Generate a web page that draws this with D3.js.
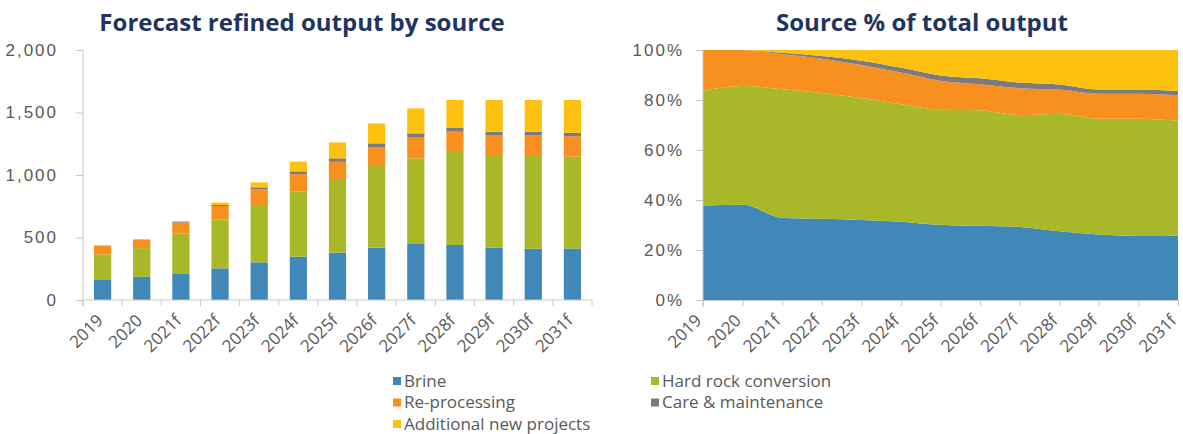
<!DOCTYPE html>
<html>
<head>
<meta charset="utf-8">
<script src="https://cdn.jsdelivr.net/npm/d3@7"></script>
<style>
  body { margin: 0; background: #fff; font-family: "Open Sans", sans-serif; }
  .title { font-weight: 700; fill: #1f3560; font-size: 24px; }
  .tick text { fill: #595959; font-size: 17px; letter-spacing: 2px; }
  .legend text { fill: #595959; font-size: 17px; }
</style>
</head>
<body>
<div id="chart"></div>
<script>
// categories
var years = ['2019', '2020', '2021f', '2022f', '2023f', '2024f', '2025f', '2026f', '2027f', '2028f', '2029f', '2030f', '2031f'];

// series values (kt)
var brine        = [165, 185, 208, 253, 301, 347, 379, 419, 448, 440, 419, 410, 412];
var hardRock     = [200, 230, 325, 392, 459, 520, 581, 653, 685, 752, 741, 750, 735];
var reprocessing = [71, 70, 88, 107, 125, 140, 146, 147, 166, 155, 160, 160, 163];
var care         = [0, 0, 4, 8, 16, 22, 27, 34, 34, 32, 27, 27, 28];
var additional   = [0, 0, 7, 19, 40, 78, 128, 160, 200, 221, 253, 253, 262];

var seriesKeys = ['brine', 'hardRock', 'reprocessing', 'care', 'additional'];
var seriesNames = {
	brine: 'Brine',
	hardRock: 'Hard rock conversion',
	reprocessing: 'Re-processing',
	care: 'Care & maintenance',
	additional: 'Additional new projects'
};
var colors = {
	brine: '#4088b8',
	hardRock: '#a8b828',
	reprocessing: '#f7901e',
	care: '#7c7a80',
	additional: '#fcc20f'
};

var valueTicks = [0, 500, 1000, 1500, 2000];
var pctTicks = [0, 0.2, 0.4, 0.6, 0.8, 1];

var table = years.map(function(y, i) {
	return {
		year: y,
		brine: brine[i],
		hardRock: hardRock[i],
		reprocessing: reprocessing[i],
		care: care[i],
		additional: additional[i]
	};
});

var width = 1183, height = 434;
var svg = d3.select('#chart').append('svg')
	.attr('width', width)
	.attr('height', height);

var axisColor = '#c8c8c8';
var labelColor = '#595959';

// ---------- left: stacked bars ----------
var left = { x0: 83, x1: 592, y0: 300, y1: 50 };

var xBand = d3.scaleBand()
	.domain(years)
	.range([left.x0, left.x1])
	.paddingInner(0.56)
	.paddingOuter(0.28);

var yVal = d3.scaleLinear()
	.domain([0, 2000])
	.range([left.y0, left.y1]);

var stacked = d3.stack().keys(seriesKeys)(table);

svg.append('text')
	.attr('class', 'title')
	.attr('x', 302)
	.attr('y', 31)
	.attr('text-anchor', 'middle')
	.text('Forecast refined output by source');

var yAxisL = svg.append('g')
	.attr('transform', 'translate(' + left.x0 + ',0)')
	.call(d3.axisLeft(yVal).tickValues(valueTicks).tickSize(7).tickPadding(18).tickFormat(d3.format(',')));
yAxisL.select('.domain').attr('stroke', axisColor).attr('d', 'M0,' + (left.y0 + 7) + 'V' + left.y1);
yAxisL.selectAll('.tick line').attr('stroke', axisColor);

svg.append('g')
	.selectAll('g')
	.data(stacked).enter()
	.append('g')
		.attr('fill', function(d) { return colors[d.key]; })
	.selectAll('rect')
	.data(function(d) { return d; }).enter()
	.append('rect')
		.attr('x', function(d) { return xBand(d.data.year); })
		.attr('width', xBand.bandwidth())
		.attr('y', function(d) { return yVal(d[1]); })
		.attr('height', function(d) { return yVal(d[0]) - yVal(d[1]); });

// bottom axis, ticks sit between the categories
var bx = svg.append('g');
bx.append('line')
	.attr('x1', left.x0).attr('x2', left.x1)
	.attr('y1', left.y0).attr('y2', left.y0)
	.attr('stroke', axisColor);
bx.selectAll('line.t')
	.data(years.concat(['end'])).enter()
	.append('line')
		.attr('class', 't')
		.attr('x1', function(d, i) { return left.x0 + i * (left.x1 - left.x0) / years.length; })
		.attr('x2', function(d, i) { return left.x0 + i * (left.x1 - left.x0) / years.length; })
		.attr('y1', left.y0).attr('y2', left.y0 + 6)
		.attr('stroke', axisColor);
bx.selectAll('text')
	.data(years).enter()
	.append('text')
		.attr('transform', function(d) {
			var cx = xBand(d) + xBand.bandwidth() / 2;
			return 'translate(' + (cx - 2) + ',' + (left.y0 + 18) + ') rotate(-45)';
		})
		.attr('text-anchor', 'end')
		.attr('dy', '0.3em')
		.attr('fill', labelColor)
		.style('font-size', '17px')
		.text(function(d) { return d; });

// ---------- right: 100% stacked area ----------
var right = { x0: 703, x1: 1178, y0: 300, y1: 50 };

var xPt = d3.scalePoint()
	.domain(years)
	.range([right.x0, right.x1]);

var yPct = d3.scaleLinear()
	.domain([0, 1])
	.range([right.y0, right.y1]);

var stackedPct = d3.stack().keys(seriesKeys).offset(d3.stackOffsetExpand)(table);

svg.append('text')
	.attr('class', 'title')
	.attr('x', 922)
	.attr('y', 31)
	.attr('text-anchor', 'middle')
	.text('Source % of total output');

var area = d3.area()
	.curve(d3.curveMonotoneX)
	.x(function(d) { return xPt(d.data.year); })
	.y0(function(d) { return yPct(d[0]); })
	.y1(function(d) { return yPct(d[1]); });

svg.append('g')
	.selectAll('path')
	.data(stackedPct).enter()
	.append('path')
		.attr('fill', function(d) { return colors[d.key]; })
		.attr('d', area);

var yAxisR = svg.append('g')
	.attr('transform', 'translate(' + right.x0 + ',0)')
	.call(d3.axisLeft(yPct).tickValues(pctTicks).tickSize(7).tickPadding(12).tickFormat(d3.format('.0%')));
yAxisR.select('.domain').attr('stroke', axisColor).attr('d', 'M0,' + (right.y0 + 7) + 'V' + right.y1);
yAxisR.selectAll('.tick line').attr('stroke', axisColor);

var xAxisR = svg.append('g')
	.attr('transform', 'translate(0,' + right.y0 + ')')
	.call(d3.axisBottom(xPt).tickSize(6).tickFormat(''));
xAxisR.select('.domain').attr('stroke', axisColor);
xAxisR.selectAll('.tick line').attr('stroke', axisColor);

svg.append('g').selectAll('text')
	.data(years).enter()
	.append('text')
		.attr('transform', function(d) {
			return 'translate(' + (xPt(d) - 4) + ',' + (right.y0 + 18) + ') rotate(-45)';
		})
		.attr('text-anchor', 'end')
		.attr('dy', '0.3em')
		.attr('fill', labelColor)
		.style('font-size', '17px')
		.text(function(d) { return d; });

// ---------- legend (two columns) ----------
var legendCols = [
	{ x: 393, keys: ['brine', 'reprocessing', 'additional'] },
	{ x: 651, keys: ['hardRock', 'care'] }
];

legendCols.forEach(function(col) {
	var g = svg.append('g').attr('class', 'legend');
	var rows = g.selectAll('g')
		.data(col.keys).enter()
		.append('g')
			.attr('transform', function(d, i) { return 'translate(' + col.x + ',' + (381 + i * 21.5) + ')'; });
	rows.append('rect')
		.attr('x', 0).attr('y', -4)
		.attr('width', 8).attr('height', 8)
		.attr('fill', function(d) { return colors[d]; });
	rows.append('text')
		.attr('x', 11)
		.attr('dy', '0.35em')
		.text(function(d) { return seriesNames[d]; });
});
</script>
</body>
</html>
